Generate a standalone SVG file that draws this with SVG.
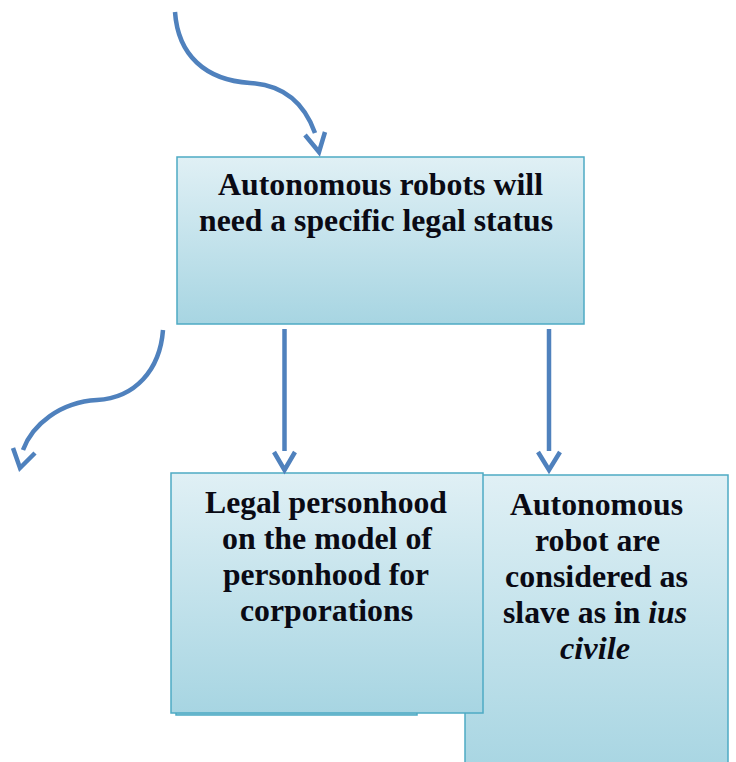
<svg xmlns="http://www.w3.org/2000/svg" width="736" height="762" viewBox="0 0 736 762">
<style>
.box{stroke:#4eaac4;stroke-width:1.5}
.con{fill:none;stroke:#4f81bd;stroke-width:4.5}
.t{font-family:"Liberation Serif",serif;font-weight:bold;font-size:31px;fill:#0a0a14;text-anchor:middle}
</style>
<defs>
<linearGradient id="g" x1="0" y1="0" x2="0" y2="1">
<stop offset="0" stop-color="#e0f0f5"/>
<stop offset="1" stop-color="#a7d5e2"/>
</linearGradient>
</defs>
<rect width="736" height="762" fill="#ffffff"/>
<g id="node-top">
<rect class="box" x="177" y="157" width="407" height="167" fill="url(#g)"/>
<text class="t" x="380.5" y="195" textLength="325" lengthAdjust="spacingAndGlyphs">Autonomous robots will</text>
<text class="t" x="376" y="231" textLength="354" lengthAdjust="spacingAndGlyphs">need a specific legal status</text>
</g>
<g id="node-slave">
<rect class="box" x="465" y="475" width="263" height="300" fill="url(#g)"/>
<text class="t" x="596.5" y="515" textLength="173" lengthAdjust="spacingAndGlyphs">Autonomous</text>
<text class="t" x="597.5" y="551" textLength="125" lengthAdjust="spacingAndGlyphs">robot are</text>
<text class="t" x="596.5" y="587" textLength="183" lengthAdjust="spacingAndGlyphs">considered as</text>
<text class="t" x="595" y="623" textLength="184" lengthAdjust="spacingAndGlyphs">slave as in <tspan font-style="italic">ius</tspan></text>
<text class="t" x="595" y="659" font-style="italic" textLength="70" lengthAdjust="spacingAndGlyphs">civile</text>
</g>
<g id="node-legal">
<rect class="box" x="176" y="480" width="241" height="235" fill="#a9d6e2"/>
<rect class="box" x="171" y="473" width="312" height="240" fill="url(#g)"/>
<text class="t" x="326" y="513" textLength="242" lengthAdjust="spacingAndGlyphs">Legal personhood</text>
<text class="t" x="327" y="549" textLength="210" lengthAdjust="spacingAndGlyphs">on the model of</text>
<text class="t" x="326" y="585" textLength="206" lengthAdjust="spacingAndGlyphs">personhood for</text>
<text class="t" x="326.5" y="621" textLength="173" lengthAdjust="spacingAndGlyphs">corporations</text>
</g>
<g id="connectors">
<path class="con" d="M175,12 C178,55 205,80 250,83 C285,85 305,105 315,133"/>
<path class="con" d="M305,135 L319,152 L325,132"/>
<path class="con" d="M163,330 C160,370 135,398 97,400 C60,402 32,425 23,450"/>
<path class="con" d="M13,448 L20,468 L35,453"/>
<path class="con" d="M284.5,329 L284.5,451"/>
<path class="con" d="M274,452 L284.5,470 L295,452"/>
<path class="con" d="M549,329 L549,451"/>
<path class="con" d="M538,452 L549,470 L560,452"/>
</g>
</svg>
